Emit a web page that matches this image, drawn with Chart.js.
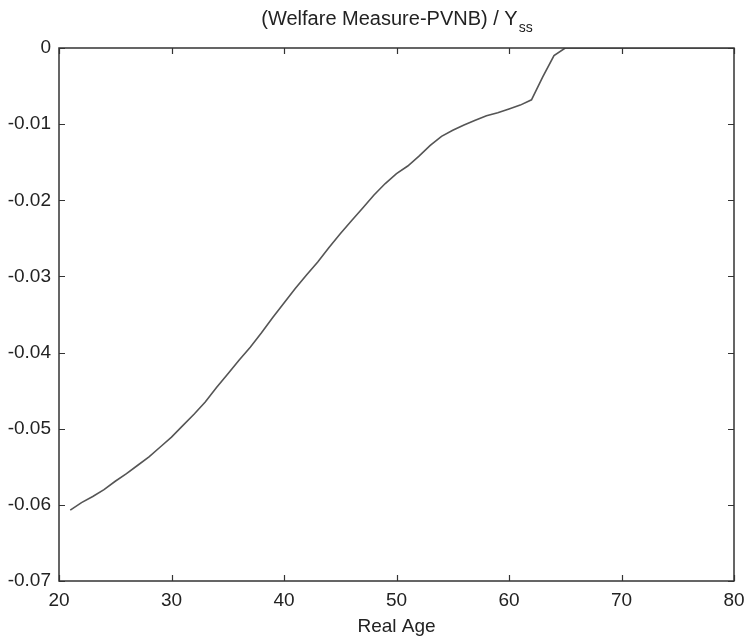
<!DOCTYPE html>
<html>
<head>
<meta charset="utf-8">
<script src="https://cdn.jsdelivr.net/npm/chart.js@4"></script>
<style>
html,body{margin:0;padding:0;background:#fff;}
#wrap{width:745px;height:641px;position:relative;}
</style>
</head>
<body>
<div id="wrap"><canvas id="c" width="745" height="641"></canvas></div>
<script>
const ages = [21,22,23,24,25,26,27,28,29,30,31,32,33,34,35,36,37,38,39,40,41,42,43,44,45,46,47,48,49,50,51,52,53,54,55,56,57,58,59,60,61,62,63,64,65,66,67,68,69,70,71,72,73,74,75,76,77,78,79,80];
const welfare = [-0.0607,-0.0597,-0.0589,-0.0580,-0.0569,-0.0559,-0.0548,-0.0537,-0.0524,-0.0511,-0.0496,-0.0481,-0.0465,-0.0446,-0.0428,-0.0410,-0.0393,-0.0374,-0.0354,-0.0335,-0.0316,-0.0298,-0.0281,-0.0262,-0.0244,-0.0227,-0.0210,-0.0193,-0.0178,-0.0165,-0.0155,-0.0142,-0.0128,-0.0116,-0.0108,-0.0101,-0.0095,-0.0089,-0.0085,-0.0080,-0.0075,-0.0068,-0.0038,-0.0010,0,0,0,0,0,0,0,0,0,0,0,0,0,0,0,0];
const xTicks = [20,30,40,50,60,70,80];
const yTicks = [0,-0.01,-0.02,-0.03,-0.04,-0.05,-0.06,-0.07];
const yTickLabels = ['0','-0.01','-0.02','-0.03','-0.04','-0.05','-0.06','-0.07'];
const titleMain = '(Welfare Measure-PVNB) / Y';
const titleSub = 'ss';
const xTitle = 'Real Age';

const FONT = "'Liberation Sans', Arial, sans-serif";
const INK = '#222';

const framePlugin = {
  id: 'frame',
  afterDraw(chart) {
    const {ctx, chartArea: a, scales} = chart;
    ctx.save();
    ctx.strokeStyle = '#333';
    ctx.lineWidth = 1.5;
    ctx.strokeRect(a.left, a.top, a.right - a.left, a.bottom - a.top);
    ctx.lineWidth = 1.2;
    const L = 6;
    ctx.beginPath();
    xTicks.forEach(v => {
      const px = Math.round(scales.x.getPixelForValue(v)) + 0.5;
      ctx.moveTo(px, a.bottom); ctx.lineTo(px, a.bottom - L);
      ctx.moveTo(px, a.top); ctx.lineTo(px, a.top + L);
    });
    yTicks.forEach(v => {
      const py = Math.round(scales.y.getPixelForValue(v)) + 0.5;
      ctx.moveTo(a.left, py); ctx.lineTo(a.left + L, py);
      ctx.moveTo(a.right, py); ctx.lineTo(a.right - L, py);
    });
    ctx.stroke();
    // title with subscript
    ctx.fillStyle = INK;
    ctx.textBaseline = 'alphabetic';
    ctx.font = '20px ' + FONT;
    const w1 = ctx.measureText(titleMain).width;
    ctx.font = '14px ' + FONT;
    const w2 = ctx.measureText(titleSub).width;
    const cx = (a.left + a.right) / 2;
    const x0 = cx - (w1 + w2) / 2;
    ctx.font = '20px ' + FONT;
    ctx.textAlign = 'left';
    ctx.fillText(titleMain, x0, 25);
    ctx.font = '14px ' + FONT;
    ctx.fillText(titleSub, x0 + w1 + 1, 32);
    ctx.restore();
  }
};

new Chart(document.getElementById('c'), {
  type: 'line',
  data: {
    datasets: [{
      data: ages.map((a, i) => ({x: a, y: welfare[i]})),
      borderColor: '#555',
      borderWidth: 1.6,
      pointRadius: 0,
      tension: 0,
      fill: false
    }]
  },
  options: {
    responsive: false,
    animation: false,
    devicePixelRatio: 1,
    layout: {padding: {left: 0, right: 11, top: 48, bottom: 0}},
    plugins: {legend: {display: false}, title: {display: false}, tooltip: {enabled: false}},
    scales: {
      x: {
        type: 'linear', min: 20, max: 80,
        afterBuildTicks: s => { s.ticks = xTicks.map(v => ({value: v})); },
        afterFit: s => { s.height = 60; s.paddingLeft = 0; s.paddingRight = 0; },
        grid: {display: false, drawTicks: false},
        border: {display: false},
        ticks: {padding: 8, color: INK, font: {family: FONT, size: 19}, maxRotation: 0, autoSkip: false},
        title: {display: true, text: xTitle, color: INK, font: {family: FONT, size: 19}, padding: {top: 0, bottom: 3}}
      },
      y: {
        type: 'linear', min: -0.07, max: 0,
        afterBuildTicks: s => { s.ticks = yTicks.map(v => ({value: v})); },
        afterFit: s => { s.width = 59; s.paddingTop = 0; s.paddingBottom = 0; },
        grid: {display: false, drawTicks: false},
        border: {display: false},
        ticks: {padding: 8, color: INK, font: {family: FONT, size: 19}, autoSkip: false,
          callback: (v) => { const i = yTicks.findIndex(t => Math.abs(t - v) < 1e-9); return i >= 0 ? yTickLabels[i] : ''; }}
      }
    }
  },
  plugins: [framePlugin]
});
</script>
</body>
</html>
